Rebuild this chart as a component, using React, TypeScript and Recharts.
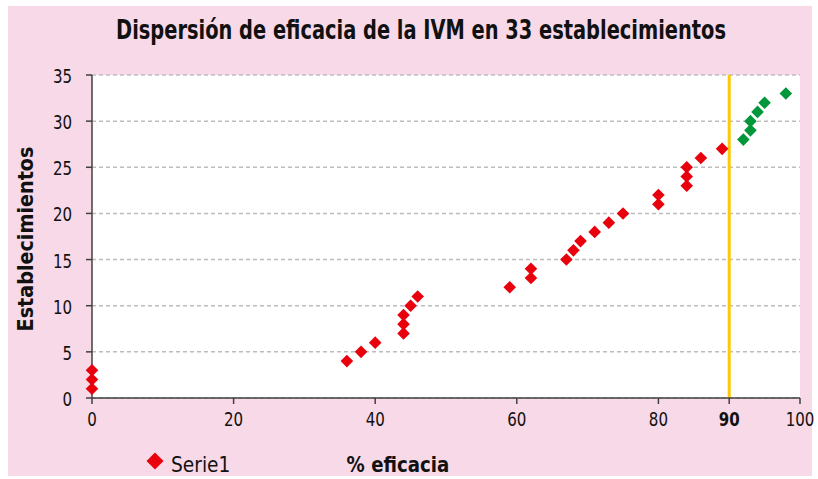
import React from "react"
import { ScatterChart, Scatter, XAxis, YAxis, CartesianGrid, ReferenceLine, Cell } from "recharts"

// % eficacia per establecimiento
const eficacia = [0, 0, 0, 36, 38, 40, 44, 44, 44, 45, 46, 59, 62, 62, 67, 68, 69, 71, 73, 75, 80, 80, 84, 84, 84, 86, 89, 92, 93, 93, 94, 95, 98]
const establecimientos = [1, 2, 3, 4, 5, 6, 7, 8, 9, 10, 11, 12, 13, 14, 15, 16, 17, 18, 19, 20, 21, 22, 23, 24, 25, 26, 27, 28, 29, 30, 31, 32, 33]
const xTicks = [0, 20, 40, 60, 80, 90, 100]
const yTicks = [0, 5, 10, 15, 20, 25, 30, 35]
const umbral = 90

const data = eficacia.map((x, i) => ({ x, y: establecimientos[i] }))

const FONT = "'DejaVu Sans Condensed', 'Liberation Sans Narrow', 'DejaVu Sans', sans-serif"
const RED = "#E8000D"
const GREEN = "#00973A"
const AXIS = "#404040"

// narrow text: the reference uses a condensed face, so squeeze horizontally
const Narrow = ({ x, y, sx = 0.9, rotate = 0, children, ...rest }: any) => (
  <text
    transform={`translate(${x},${y})${rotate ? ` rotate(${rotate})` : ""} scale(${sx},1)`}
    x={0}
    y={0}
    fill="#111"
    fontFamily={FONT}
    {...rest}
  >
    {children}
  </text>
)

const Diamond = (props: any) => {
  const { cx, cy, fill } = props
  const r = 6.3
  return <path d={`M${cx},${cy - r}L${cx + r},${cy}L${cx},${cy + r}L${cx - r},${cy}Z`} fill={fill} />
}

const XTick = (props: any) => {
  const { x, y, payload } = props
  const bold = payload.value === umbral
  return (
    <Narrow x={x} y={y + 22} sx={0.88} textAnchor="middle" fontSize={19} fontWeight={bold ? 700 : 400}>
      {payload.value}
    </Narrow>
  )
}

const YTick = (props: any) => {
  const { x, y, payload } = props
  return (
    <Narrow x={x} y={y + 8} sx={0.88} textAnchor="end" fontSize={19}>
      {payload.value}
    </Narrow>
  )
}

export default function App() {
  return (
    <div style={{ position: "absolute", left: 0, top: 0, width: 818, height: 479, background: "#fff" }}>
      <div style={{ position: "absolute", left: 8, top: 6, width: 804, height: 470, background: "#F8D9E7" }} />
      <div style={{ position: "absolute", left: 0, top: 0 }}>
        <ScatterChart width={818} height={479} margin={{ top: 75, right: 18, bottom: 41, left: 32 }}>
          <CartesianGrid fill="#fff" vertical={false} stroke="#BDBDBD" strokeWidth={1.5} strokeDasharray="4 3" />
          <XAxis
            type="number"
            dataKey="x"
            domain={[0, 100]}
            ticks={xTicks}
            interval={0}
            height={40}
            stroke={AXIS}
            strokeWidth={1.5}
            tickSize={6}
            tickMargin={0}
            tick={<XTick />}
          />
          <YAxis
            type="number"
            dataKey="y"
            domain={[0, 35]}
            ticks={yTicks}
            interval={0}
            width={60}
            stroke={AXIS}
            strokeWidth={1.5}
            tickSize={6}
            tickMargin={14}
            tick={<YTick />}
          />
          <ReferenceLine x={umbral} stroke="#FFC800" strokeWidth={3} />
          <Scatter name="Serie1" data={data} shape={<Diamond />} isAnimationActive={false}>
            {data.map((d, i) => (
              <Cell key={i} fill={d.x > umbral ? GREEN : RED} />
            ))}
          </Scatter>
        </ScatterChart>
      </div>
      <svg width={818} height={479} style={{ position: "absolute", left: 0, top: 0, pointerEvents: "none" }}>
        <Narrow x={421} y={39} sx={0.83} textAnchor="middle" fontSize={26} fontWeight={700}>
          Dispersión de eficacia de la IVM en 33 establecimientos
        </Narrow>
        <Narrow x={33} y={239} rotate={-90} sx={0.97} textAnchor="middle" fontSize={22} fontWeight={700}>
          Establecimientos
        </Narrow>
        <Narrow x={398} y={472} sx={0.92} textAnchor="middle" fontSize={22} fontWeight={700}>
          % eficacia
        </Narrow>
        <path d="M155,452.5L163.5,461L155,469.5L146.5,461Z" fill={RED} />
        <Narrow x={171} y={472} sx={0.94} fontSize={22}>
          Serie1
        </Narrow>
      </svg>
    </div>
  )
}
